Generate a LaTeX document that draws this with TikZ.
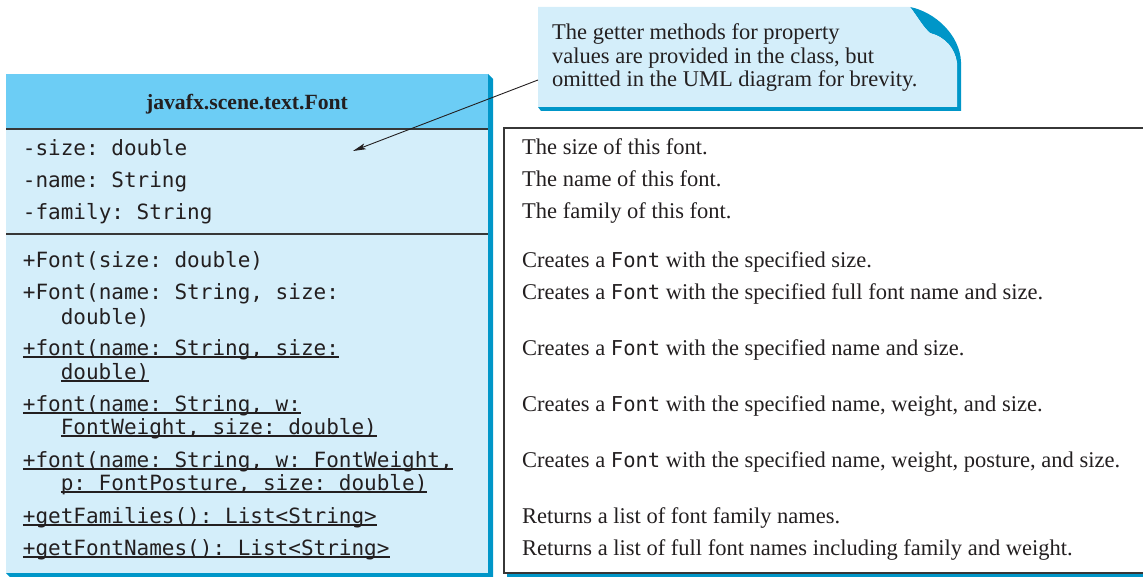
\documentclass[tikz,border=0pt]{standalone}
\usepackage{fontspec}
\setmainfont{Liberation Serif}
\newfontfamily\monof{DejaVu Sans Mono}
\usetikzlibrary{arrows.meta}
\definecolor{hdr}{RGB}{108,205,245}
\definecolor{bodyc}{RGB}{212,238,250}
\definecolor{shad}{RGB}{0,150,200}
\definecolor{ink}{RGB}{35,31,32}
\definecolor{rulec}{RGB}{55,55,55}
\newsavebox\ulbox
\newcommand{\ulm}[1]{\sbox\ulbox{#1}\rlap{\rule[-2.6pt]{\wd\ulbox}{1.3pt}}\usebox\ulbox}
\newcommand{\fnt}{{\monof\fontsize{20.5}{24}\selectfont Font}}
\begin{document}
\begin{tikzpicture}[x=1pt,y=-1pt,
  mono/.style={anchor=base west,inner sep=0pt,text=ink,font=\monof\fontsize{21}{25}\selectfont\frenchspacing},
  desc/.style={anchor=base west,inner sep=0pt,text=ink,font=\fontsize{22.5}{27}\selectfont},
  title/.style={anchor=base,inner sep=0pt,text=ink,font=\bfseries\fontsize{21.7}{26}\selectfont},
  sepline/.style={draw=rulec,line width=1.5pt},
  boxline/.style={draw=rulec,line width=1.3pt},
  pointer/.style={draw=ink,line width=0.9pt,-{Stealth[length=13pt,width=6pt,inset=3pt]}}]
\useasboundingbox (0,0) rectangle (1143,577);

% class box
\fill[shad] (488,74) -- (493,79) -- (493,577) -- (10,577) -- (6,573) -- (488,573) -- cycle;
\fill[bodyc] (6,74) rectangle (488,573);
\fill[hdr] (6,74) rectangle (488,129);
\draw[sepline] (6,129) -- (488,129);
\draw[sepline] (6,234) -- (488,234);
\node[title] (title) at (247,110) {javafx.scene.text.Font};

\node[mono] (a1) at (22.7,156) {-size: double};
\node[mono] (a2) at (22.7,188) {-name: String};
\node[mono] (a3) at (22.7,220) {-family: String};

\node[mono] (m1)  at (22.7,268) {+Font(size: double)};
\node[mono] (m2a) at (22.7,300) {+Font(name: String, size:};
\node[mono] (m2b) at (60.6,324) {double)};
\node[mono] (m3a) at (22.7,355) {\ulm{+font(name: String, size:}};
\node[mono] (m3b) at (60.6,379) {\ulm{double)}};
\node[mono] (m4a) at (22.7,411) {\ulm{+font(name: String, w:}};
\node[mono] (m4b) at (60.6,434) {\ulm{FontWeight, size: double)}};
\node[mono] (m5a) at (22.7,467) {\ulm{+font(name: String, w: FontWeight,}};
\node[mono] (m5b) at (60.6,490) {\ulm{p: FontPosture, size: double)}};
\node[mono] (m6)  at (22.7,523) {\ulm{+getFamilies(): List<String>}};
\node[mono] (m7)  at (22.7,555) {\ulm{+getFontNames(): List<String>}};

% description box
\fill[shad] (507,573.6) rectangle (1143,577);
\draw[boxline] (1143,128) -- (504,128) -- (504,573) -- (1143,573);
\node[desc] (d1)  at (522,155) {The size of this font.};
\node[desc] (d2)  at (522,187) {The name of this font.};
\node[desc] (d3)  at (522,219) {The family of this font.};
\node[desc] (d4)  at (522,268) {Creates a \fnt{} with the specified size.};
\node[desc] (d5)  at (522,300) {Creates a \fnt{} with the specified full font name and size.};
\node[desc] (d6)  at (522,355) {Creates a \fnt{} with the specified name and size.};
\node[desc] (d7)  at (522,411) {Creates a \fnt{} with the specified name, weight, and size.};
\node[desc] (d8)  at (522,467) {Creates a \fnt{} with the specified name, weight, posture, and size.};
\node[desc] (d9)  at (522,523) {Returns a list of font family names.};
\node[desc] (d10) at (522,555) {Returns a list of full font names including family and weight.};

% note
\fill[shad] (910,7) .. controls (935,12) and (960,35) .. (961,62) -- (961,111) -- (541,111) -- (538,107)
  -- (957,107) -- (957,63) .. controls (955,48) and (945,37) .. (930,33)
  .. controls (923,27) and (917,16) .. (910,7) -- cycle;
\fill[bodyc] (538,7) -- (910,7) .. controls (917,16) and (923,27) .. (930,33)
  .. controls (945,37) and (955,48) .. (957,63) -- (957,107) -- (538,107) -- cycle;
\node[desc] (n1) at (552,40) {The getter methods for property};
\node[desc] (n2) at (552,63.5) {values are provided in the class, but};
\node[desc] (n3) at (552,87) {omitted in the UML diagram for brevity.};

\coordinate (noteanchor) at (538,80);
\coordinate (arrtip) at (353,151);
\draw[pointer] (noteanchor) -- (arrtip);
\end{tikzpicture}
\end{document}
